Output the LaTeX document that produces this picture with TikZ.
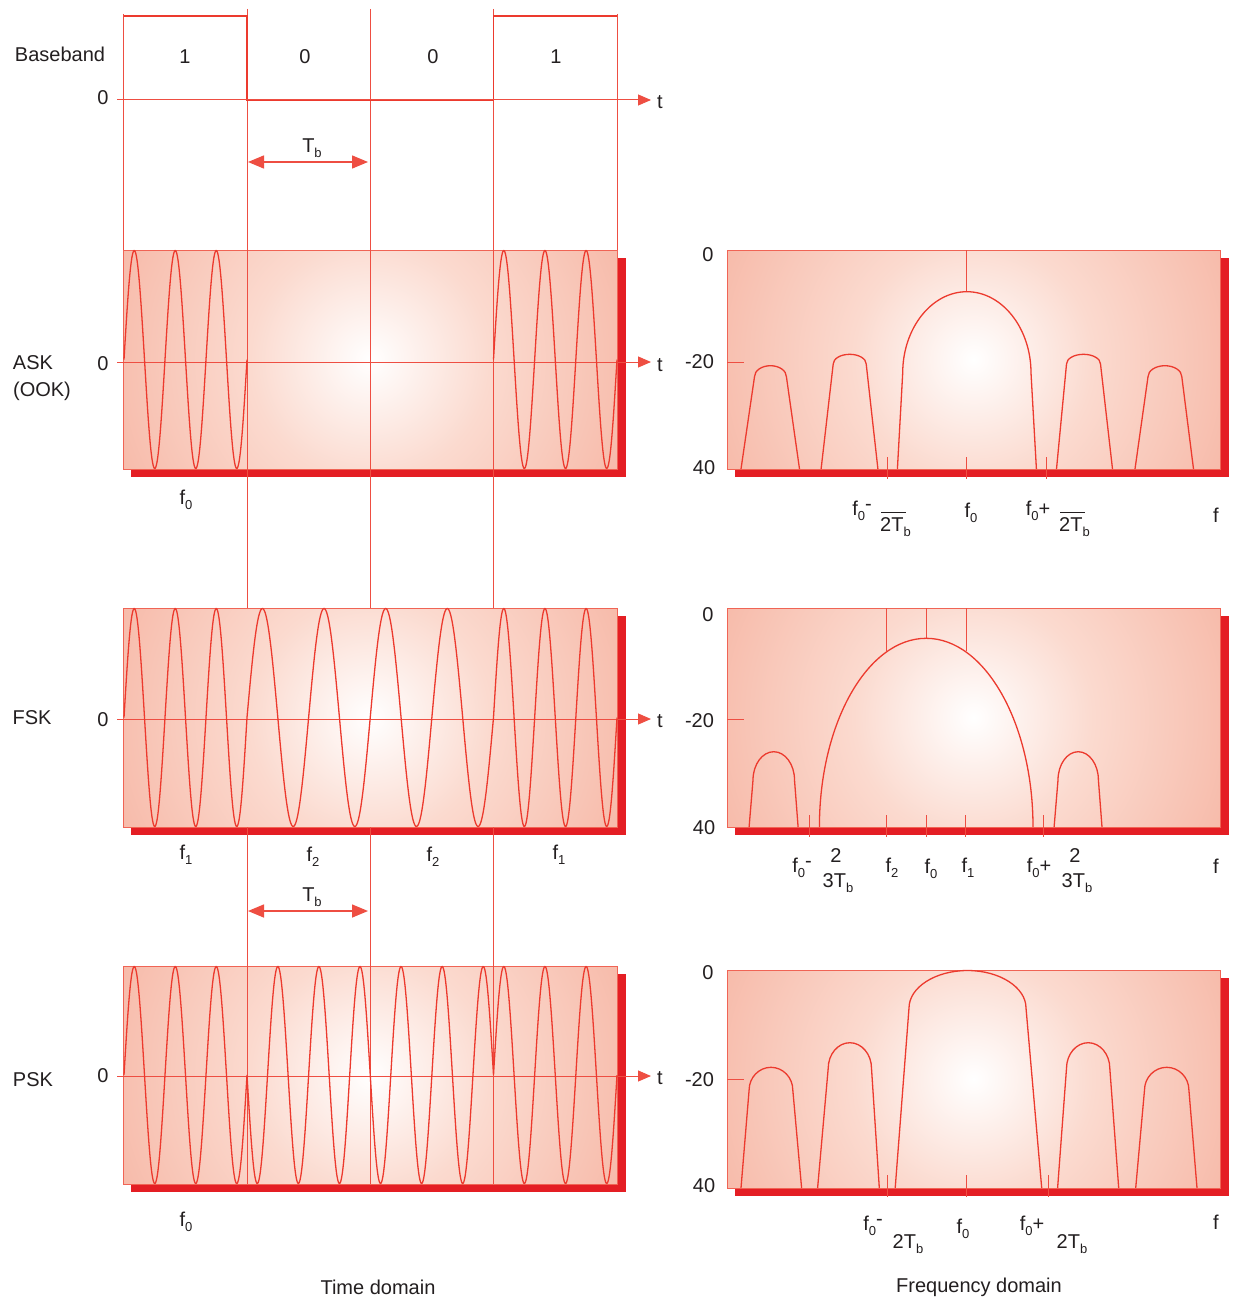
\documentclass[tikz,border=0pt]{standalone}
\usepackage{fontspec}
\setmainfont{Liberation Sans}
\usetikzlibrary{arrows.meta}
\definecolor{shadowred}{RGB}{228,30,36}
\definecolor{curvered}{RGB}{236,58,46}
\definecolor{guidered}{RGB}{238,78,66}
\definecolor{boxedge}{RGB}{240,100,85}
\definecolor{salmonE}{RGB}{241,145,122}
\definecolor{salmonQ}{RGB}{246,180,162}
\definecolor{salmonM}{RGB}{251,218,207}
\definecolor{txt}{RGB}{35,31,32}
\pgfdeclareradialshading{glow}{\pgfpoint{0bp}{0bp}}{color(0bp)=(white); color(11bp)=(salmonM); color(28bp)=(salmonQ); color(50bp)=(salmonE); color(60bp)=(salmonE)}
\newcommand\subtx[1]{\raisebox{-5pt}{\fontsize{13}{13}\selectfont #1}}
\newcommand\suptx[1]{\raisebox{5pt}{#1}}
\newcommand\panelbox[4]{%
  \fill[shadowred] ({#1+8},{#2+8}) rectangle ({#3+9},{#4+8});
  \begin{scope}
    \clip (#1,#2) rectangle (#3,#4);
    \shade[shading=glow] ({(#1+#3)/2},{(#2+#4)/2}) circle[radius=272];
  \end{scope}
  \draw[boxedge, line width=0.8pt] (#1,#2) rectangle (#3,#4);
}
\newcommand\lobe[7]{% xl, xsl, ys, ytop, xsr, xr, yb
  \draw[spec] (#1,#7) -- (#2,#3)
    .. controls (#2,{#3-0.55*(#3-#4)}) and ({(#2+#5)/2-0.55*(#5-#2)/2},#4) .. ({(#2+#5)/2},#4)
    .. controls ({(#2+#5)/2+0.55*(#5-#2)/2},#4) and (#5,{#3-0.55*(#3-#4)}) .. (#5,#3) -- (#6,#7);
}
\begin{document}
\begin{tikzpicture}[x=1pt,y=-1pt,
  lbl/.style={font=\fontsize{20}{24}\selectfont, text=txt, inner sep=0pt},
  wave/.style={curvered, line width=1.3pt},
  spec/.style={curvered, line width=1.3pt},
  guide/.style={guidered, line width=1pt},
  axisln/.style={guidered, line width=1pt},
  tickln/.style={guidered, line width=1pt},
  tip/.tip={Triangle[length=13pt,width=11pt]},
  bigtip/.tip={Triangle[length=16pt,width=13pt]}]
\fill[white] (0,0) rectangle (1236,1300);
\useasboundingbox (0,0) rectangle (1236,1300);

% ---------- panels ----------
\panelbox{123}{250}{617}{469}
\panelbox{123}{966}{617}{1184}
\panelbox{727}{250}{1220}{469}
\panelbox{727}{608}{1220}{827}
\panelbox{727}{970}{1220}{1188}

% ---------- guides ----------
\draw[guide] (123,14) -- (123,250);
\draw[guide] (617,14) -- (617,250);
\foreach \gx in {247,370,493.5}{
  \draw[guide] (\gx,9) -- (\gx,608);
}
\panelbox{123}{608}{617}{827}
\foreach \gx in {247,370,493.5}{
  \draw[guide] (\gx,827) -- (\gx,1184);
}

% ---------- baseband ----------
\draw[curvered, line width=1.8pt] (124,16) -- (247,16) -- (247,100) -- (493.5,100) -- (493.5,16) -- (617,16);
\draw[axisln, -tip] (117,100) -- (651,100);
\draw[axisln, line width=1.5pt, bigtip-bigtip] (248,162) -- (368,162);
\draw[axisln, line width=1.5pt, bigtip-bigtip] (248,911) -- (368,911);

% ---------- time axes ----------
\draw[axisln, -tip] (117,362) -- (651,362);
\draw[axisln, -tip] (117,719) -- (651,719);
\draw[axisln, -tip] (117,1076) -- (651,1076);

% ---------- ASK wave ----------
\draw[wave] plot[domain=124:247, samples=220, smooth] (\x,{359.5-109*sin(1080*((\x-124)/123))});
\draw[wave] plot[domain=493.5:617, samples=220, smooth] (\x,{359.5-109*sin(1080*((\x-493.5)/123.5))});

% ---------- FSK wave ----------
\draw[wave] plot[domain=124:247, samples=220, smooth] (\x,{717.5-109*sin(1080*((\x-124)/123))})
  -- plot[domain=247:493.5, samples=300, smooth] (\x,{717.5-109*sin(1440*((\x-247)/246.5))})
  -- plot[domain=493.5:617, samples=220, smooth] (\x,{717.5-109*sin(1080*((\x-493.5)/123.5))});

% ---------- PSK wave ----------
\draw[wave] plot[domain=124:247, samples=220, smooth] (\x,{1075-108.5*sin(1080*((\x-124)/123))})
  -- plot[domain=247:493.5, samples=400, smooth] (\x,{1075+108.5*sin(2160*((\x-247)/246.5))})
  -- plot[domain=493.5:617, samples=220, smooth] (\x,{1075-108.5*sin(1080*((\x-493.5)/123.5))});

% ---------- ASK spectrum ----------
\draw[tickln] (727,362) -- (744,362);
\draw[tickln] (966.5,250) -- (966.5,291.7);
\foreach \tx in {887.4,966.5,1046.3}{ \draw[tickln] (\tx,457) -- (\tx,479); }
\lobe{741}{754.5}{376.7}{365.7}{786.4}{799.5}{469}
\lobe{821.1}{833.2}{364}{354.3}{866.2}{877.9}{469}
\lobe{897.4}{902.7}{373}{291.7}{1031}{1036.4}{469}
\lobe{1056.5}{1066.5}{364}{354.3}{1100.5}{1112.5}{469}
\lobe{1135}{1148}{376.7}{365.7}{1181.8}{1193.5}{469}

% ---------- FSK spectrum ----------
\draw[tickln] (727,719) -- (744,719);
\draw[tickln] (886.7,608) -- (886.7,651);
\draw[tickln] (926.5,608) -- (926.5,638.3);
\draw[tickln] (966.5,608) -- (966.5,651);
\foreach \tx in {809.4,886.7,926.5,965.5,1043.5}{ \draw[tickln] (\tx,815) -- (\tx,837); }
\lobe{749.1}{753}{780}{751.7}{794.5}{798.1}{827}
\lobe{819.4}{819.4}{827}{638.3}{1033}{1033}{827}
\lobe{1054.1}{1058}{780}{751.7}{1098.4}{1102}{827}

% ---------- PSK spectrum ----------
\draw[tickln] (727,1079) -- (744,1079);
\foreach \tx in {887.4,966.5,1048.8}{ \draw[tickln] (\tx,1175) -- (\tx,1197); }
\lobe{741}{749.1}{1090}{1067.3}{792.8}{801.6}{1188}
\lobe{817.6}{828.2}{1068.3}{1042.7}{871.5}{879.3}{1188}
\lobe{895.2}{909}{1008}{970.5}{1026}{1041.7}{1188}
\lobe{1057.6}{1066.5}{1068.3}{1042.7}{1109.8}{1118.7}{1188}
\lobe{1135.7}{1144.5}{1090}{1067.3}{1188.9}{1197}{1188}

% ---------- left labels ----------
\node[lbl] (lbb) at (60,54) {Baseband};
\node[lbl] (bit1) at (185,57) {1};
\node[lbl] (bit2) at (305,57) {0};
\node[lbl] (bit3) at (433,57) {0};
\node[lbl] (bit4) at (556,57) {1};
\node[lbl] (zb) at (103,98) {0};
\node[lbl] (tb0) at (660,102) {t};
\node[lbl] (lask) at (33,363) {ASK};
\node[lbl] (look) at (42,391) {(OOK)};
\node[lbl] (zask) at (103,364) {0};
\node[lbl] (task) at (660,365) {t};
\node[lbl] (lfsk) at (32,718) {FSK};
\node[lbl] (zfsk) at (103,720) {0};
\node[lbl] (tfsk) at (660,721) {t};
\node[lbl] (lpsk) at (33,1080) {PSK};
\node[lbl] (zpsk) at (103,1076) {0};
\node[lbl] (tpsk) at (660,1078) {t};
\node[lbl] (tba) at (312,148) {T\subtx{b}};
\node[lbl] (tbb) at (312,897) {T\subtx{b}};

% time-domain frequency labels
\node[lbl] (fa0) at (186,500) {f\subtx{0}};
\node[lbl] (ff1a) at (186,855) {f\subtx{1}};
\node[lbl] (ff2a) at (313,857) {f\subtx{2}};
\node[lbl] (ff2b) at (433,857) {f\subtx{2}};
\node[lbl] (ff1b) at (559,855) {f\subtx{1}};
\node[lbl] (fp0) at (186,1222) {f\subtx{0}};
\node[lbl] (tdom) at (378,1287) {Time domain};

% ---------- frequency labels ----------
\node[lbl] (a0) at (708,255) {0};
\node[lbl] (a20) at (699.5,362) {-20};
\node[lbl] (a40) at (704,468) {40};
\node[lbl] (b0) at (708,615) {0};
\node[lbl] (b20) at (699.5,721) {-20};
\node[lbl] (b40) at (704,828) {40};
\node[lbl] (c0) at (708,973) {0};
\node[lbl] (c20) at (699.5,1080) {-20};
\node[lbl] (c40) at (704,1186) {40};

\node[lbl] (am) at (862,511) {f\subtx{0}\suptx{-}};
\node[lbl, anchor=north west] (afr1) at (880,517) {2T\subtx{b}};
\draw[txt, line width=0.8pt] ([xshift=1pt,yshift=5pt]afr1.north west) -- ([xshift=-5pt,yshift=5pt]afr1.north east);
\node[lbl] (ac) at (971,513) {f\subtx{0}};
\node[lbl] (ap) at (1038,511) {f\subtx{0}+};
\node[lbl, anchor=north west] (afr2) at (1059,517) {2T\subtx{b}};
\draw[txt, line width=0.8pt] ([xshift=1pt,yshift=5pt]afr2.north west) -- ([xshift=-5pt,yshift=5pt]afr2.north east);
\node[lbl] (af) at (1216,515) {f};

\node[lbl] (bm) at (802,868) {f\subtx{0}\suptx{-}};
\node[lbl] (bn1) at (836,856) {2};
\node[lbl] (bd1) at (838,883) {3T\subtx{b}};
\node[lbl] (bf2) at (892,868) {f\subtx{2}};
\node[lbl] (bf0) at (931,869) {f\subtx{0}};
\node[lbl] (bf1) at (968,868) {f\subtx{1}};
\node[lbl] (bp) at (1039,868) {f\subtx{0}+};
\node[lbl] (bn2) at (1075,856) {2};
\node[lbl] (bd2) at (1077,883) {3T\subtx{b}};
\node[lbl] (bf) at (1216,866) {f};

\node[lbl] (cm) at (873,1226) {f\subtx{0}\suptx{-}};
\node[lbl] (cd1) at (908,1244) {2T\subtx{b}};
\node[lbl] (cc) at (963,1229) {f\subtx{0}};
\node[lbl] (cp) at (1032,1226) {f\subtx{0}+};
\node[lbl] (cd2) at (1072,1244) {2T\subtx{b}};
\node[lbl] (cf) at (1216,1222) {f};
\node[lbl] (fdom) at (979,1287) {Frequency domain};
\end{tikzpicture}
\end{document}
